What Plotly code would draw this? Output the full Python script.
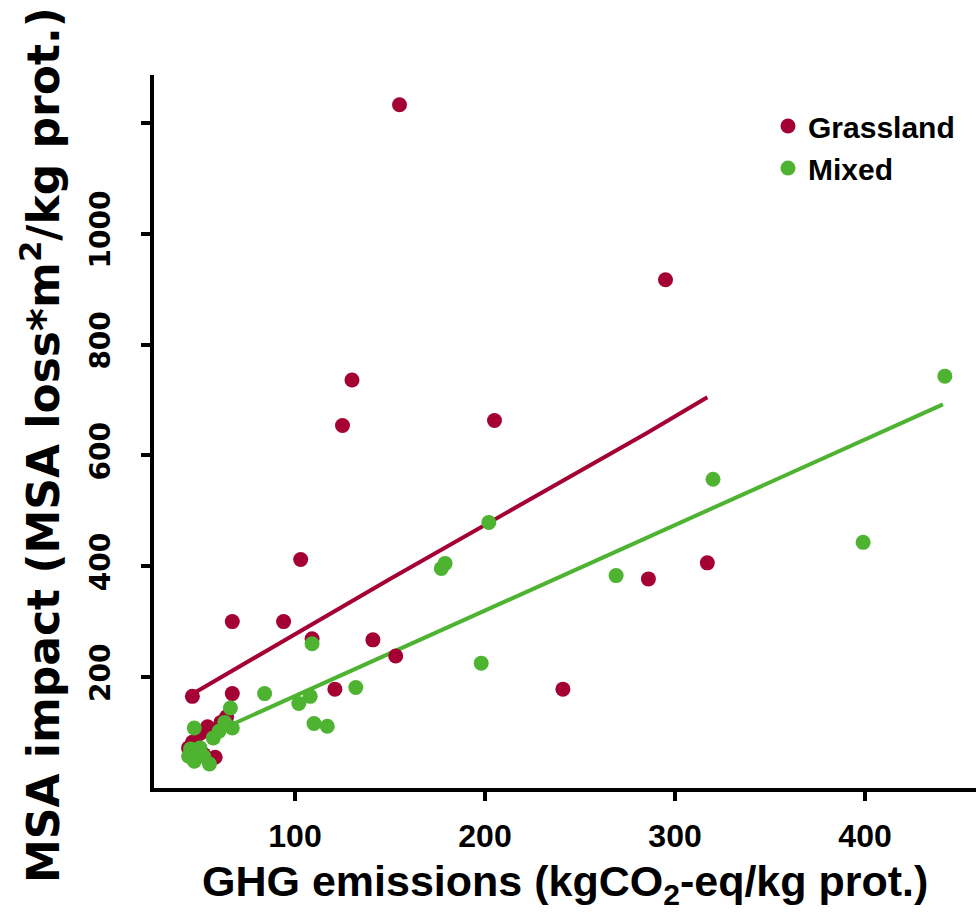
import plotly.graph_objects as go

# ---- data ----
grass_x = [155, 295, 130, 125, 205, 103, 94, 67, 141, 109, 153, 121, 241, 286, 317,
           46, 67, 46, 50, 54, 56, 61, 64, 52, 58, 44]
grass_y = [1233, 917, 736, 654, 663, 412, 300, 300, 267, 269, 238, 178, 178, 377, 406,
           165, 170, 82, 98, 110, 102, 118, 128, 60, 55, 72]

mixed_x = [442, 320, 399, 269, 177, 179, 202, 198, 132, 108, 102, 110, 117, 109, 84,
           66, 47, 60, 67, 57, 44, 47, 52, 55, 45, 50, 63]
mixed_y = [743, 557, 443, 383, 396, 405, 479, 225, 181, 165, 152, 116, 111, 260, 170,
           144, 108, 102, 108, 90, 57, 48, 57, 43, 70, 72, 118]

grass_fit_x = [45.8, 150, 285, 317]
grass_fit_y = [169, 377, 640, 705]
mixed_fit_x = [44, 92, 441]
mixed_fit_y = [79, 153, 692]

x_ticks = [100, 200, 300, 400]
y_ticks = [200, 400, 600, 800, 1000, 1200]
y_ticktext = ["200", "400", "600", "800", "1000", ""]

RED = "#A50034"
GREEN = "#4DB331"
SANS = "Liberation Sans, Arial, sans-serif"
WIDE = "DejaVu Sans, Liberation Sans, sans-serif"

fig = go.Figure()
fig.add_trace(go.Scatter(x=grass_fit_x, y=grass_fit_y, mode="lines",
                         line=dict(color=RED, width=4), showlegend=False, hoverinfo="skip"))
fig.add_trace(go.Scatter(x=mixed_fit_x, y=mixed_fit_y, mode="lines",
                         line=dict(color=GREEN, width=4), showlegend=False, hoverinfo="skip"))
fig.add_trace(go.Scatter(x=grass_x, y=grass_y, mode="markers", name="Grassland",
                         marker=dict(color=RED, size=15, line=dict(width=0))))
fig.add_trace(go.Scatter(x=mixed_x, y=mixed_y, mode="markers", name="Mixed",
                         marker=dict(color=GREEN, size=15, line=dict(width=0))))

fig.update_layout(
    width=978, height=914,
    margin=dict(l=154, r=2, t=75, b=126),
    plot_bgcolor="white", paper_bgcolor="white",
    legend=dict(x=(768 - 154) / 822, y=(788 - 100) / 713, xanchor="left", yanchor="top",
                font=dict(family=SANS, size=30, color="black", weight="bold"),
                bgcolor="rgba(0,0,0,0)", borderwidth=0, tracegroupgap=0),
    annotations=[
        dict(text="GHG emissions (kgCO<sub>2</sub>-eq/kg prot.)", xref="paper", yref="paper",
             x=(565 - 154) / 822, y=-(884 - 788) / 713, xanchor="center", yanchor="middle",
             showarrow=False, font=dict(family=SANS, size=43, color="black", weight="bold")),
        dict(text="MSA impact (MSA loss*m<sup>2</sup>/kg prot.)", xref="paper", yref="paper",
             x=-(154 - 40) / 822, y=(788 - 445) / 713, xanchor="center", yanchor="middle",
             textangle=-90, showarrow=False,
             font=dict(family=WIDE, size=44, color="black", weight="bold")),
    ],
)
fig.update_xaxes(range=[25.8, 458.4], showgrid=False, zeroline=False,
                 showline=True, linecolor="black", linewidth=4,
                 ticks="outside", ticklen=9, tickwidth=4, tickcolor="black",
                 tickvals=x_ticks, ticklabelstandoff=8,
                 tickfont=dict(family=SANS, size=32, color="black", weight="bold"))
fig.update_yaxes(range=[-0.4, 1286.6], showgrid=False, zeroline=False,
                 showline=True, linecolor="black", linewidth=4,
                 ticks="outside", ticklen=9, tickwidth=4, tickcolor="black",
                 tickvals=y_ticks, ticktext=y_ticktext, tickangle=-90, ticklabelstandoff=20,
                 tickfont=dict(family=WIDE, size=28, color="black", weight="bold"))

fig.write_html("out.html")
